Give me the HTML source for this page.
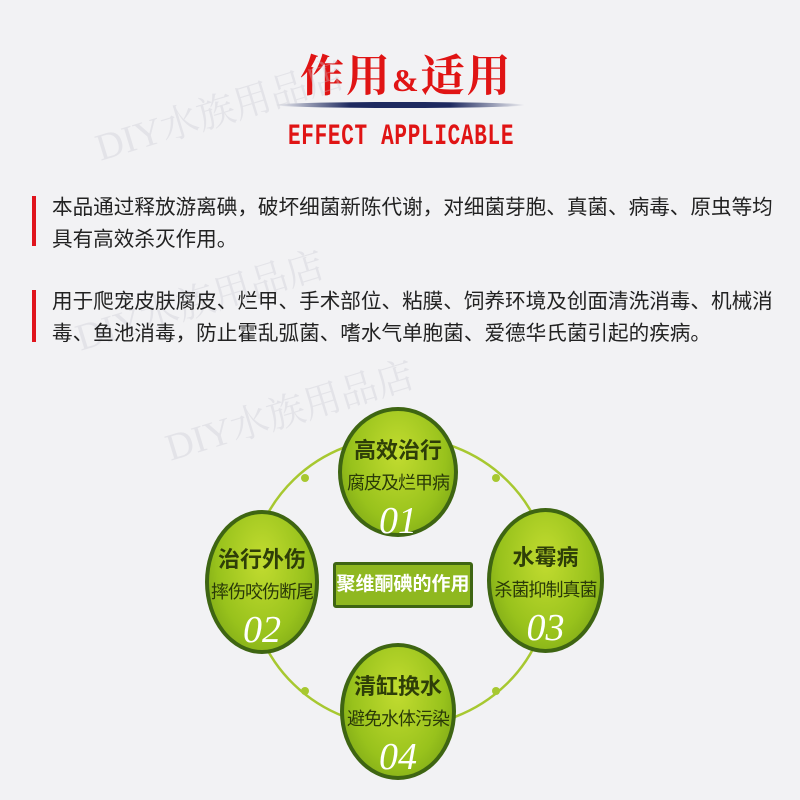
<!DOCTYPE html>
<html><head><meta charset="utf-8"><style>
body{margin:0;width:800px;height:800px;background:#f2f2f4;position:relative;overflow:hidden;font-family:"Liberation Sans","Noto Sans CJK SC",sans-serif}
.a{position:absolute}
.p{left:52px;font-size:20.6px;color:#222;line-height:32px;width:760px;white-space:nowrap}
.bar{left:32px;width:4px;background:#e0141c}
.c{position:absolute;border-radius:50%;background:radial-gradient(ellipse at 50% 35%,#c2dc30,#98c21c 60%,#6f9a14);border:4px solid #3e6512;text-align:center;box-sizing:border-box}
.c .t{font-weight:bold;font-size:22px;color:#2e3e08;margin-top:22px}
.c .s{font-size:18px;color:#2a3a08;margin-top:4px;letter-spacing:-1px}
.c .n{font-family:"Liberation Serif",serif;font-style:italic;font-size:38px;color:#fff;margin-top:4px}
</style></head><body>
<div class="a" style="left:300px;top:40px;font-size:44px;font-weight:bold;color:#e01414;font-family:'Liberation Serif','Noto Serif CJK SC',serif;letter-spacing:2px">作用<span style="font-size:32px">&amp;</span>适用</div>
<div class="a" style="left:275px;top:102px;width:250px;height:6px;border-radius:50%;background:linear-gradient(90deg,rgba(30,40,90,0),#1e2a60 30%,#1e2a60 70%,rgba(30,40,90,0))"></div>
<div class="a" style="left:288px;top:120px;font-size:30px;color:#e01414;font-family:'Liberation Mono',monospace;transform:scaleX(0.7);transform-origin:left;letter-spacing:1px;font-weight:bold">EFFECT APPLICABLE</div>
<div class="a" style="left:90px;top:80px;font-size:38px;color:rgba(200,200,210,.35);font-family:'Liberation Serif','Noto Serif CJK SC',serif;transform:rotate(-17deg)">DIY水族用品店</div>
<div class="a" style="left:70px;top:270px;font-size:38px;color:rgba(200,200,210,.35);font-family:'Liberation Serif','Noto Serif CJK SC',serif;transform:rotate(-17deg)">DIY水族用品店</div>
<div class="a" style="left:160px;top:380px;font-size:38px;color:rgba(200,200,210,.35);font-family:'Liberation Serif','Noto Serif CJK SC',serif;transform:rotate(-17deg)">DIY水族用品店</div>
<div class="a bar" style="top:196px;height:50px"></div>
<div class="a p" style="top:192px">本品通过释放游离碘，破坏细菌新陈代谢，对细菌芽胞、真菌、病毒、原虫等均<br>具有高效杀灭作用。</div>
<div class="a bar" style="top:290px;height:52px"></div>
<div class="a p" style="top:286px">用于爬宠皮肤腐皮、烂甲、手术部位、粘膜、饲养环境及创面清洗消毒、机械消<br>毒、鱼池消毒，防止霍乱弧菌、嗜水气单胞菌、爱德华氏菌引起的疾病。</div>
<svg class="a" style="left:0;top:0" width="800" height="800"><ellipse cx="400" cy="582" rx="150" ry="145" fill="none" stroke="#a7c830" stroke-width="2.5"/>
<circle cx="305" cy="478" r="4" fill="#a7c830"/><circle cx="496" cy="478" r="4" fill="#a7c830"/><circle cx="305" cy="691" r="4" fill="#a7c830"/><circle cx="496" cy="691" r="4" fill="#a7c830"/></svg>
<div class="c" style="left:338px;top:407px;width:120px;height:130px"><div class="t">高效治行</div><div class="s">腐皮及烂甲病</div><div class="n">01</div></div>
<div class="c" style="left:205px;top:510px;width:114px;height:144px"><div class="t" style="margin-top:28px">治行外伤</div><div class="s">摔伤咬伤断尾</div><div class="n">02</div></div>
<div class="c" style="left:487px;top:508px;width:117px;height:145px"><div class="t" style="margin-top:28px">水霉病</div><div class="s">杀菌抑制真菌</div><div class="n">03</div></div>
<div class="c" style="left:340px;top:643px;width:116px;height:137px"><div class="t">清缸换水</div><div class="s">避免水体污染</div><div class="n">04</div></div>
<div class="a" style="left:333px;top:562px;width:140px;height:46px;box-sizing:border-box;border:3px solid #3e6512;background:#8fb820;border-radius:3px;color:#fff;font-weight:bold;font-size:19px;text-align:center;line-height:40px">聚维酮碘的作用</div>
</body></html>
